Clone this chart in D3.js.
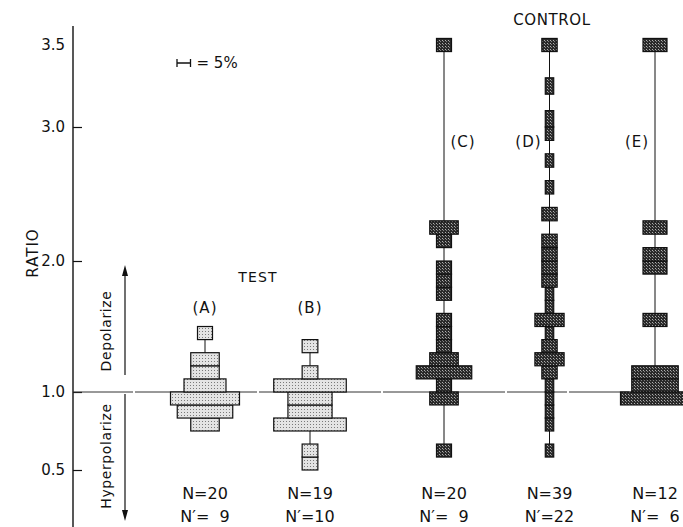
<!DOCTYPE html>
<html>
<head>
<meta charset="utf-8">
<script src="https://cdn.jsdelivr.net/npm/d3@7"></script>
<style>
  body { margin: 0; background: #fff; }
  text { font-family: "DejaVu Sans", sans-serif; fill: #111; }
</style>
</head>
<body>
<div id="chart"></div>
<script>
// bins: [lower edge of ratio bin, count]; below 1.0 the bins are 1/12 wide, the 3.46 bin is the ">3" overflow
const groupA = [[0.75, 2], [0.833, 4], [0.917, 5], [1.0, 3], [1.1, 2], [1.2, 2], [1.4, 1]];
const groupB = [[0.5, 1], [0.583, 1], [0.75, 5], [0.833, 3], [0.917, 3], [1.0, 5], [1.1, 1], [1.3, 1]];
const groupC = [[0.583, 1], [0.917, 2], [1.0, 1], [1.1, 4], [1.2, 2], [1.3, 1], [1.4, 1], [1.5, 1],
  [1.7, 1], [1.8, 1], [1.9, 1], [2.1, 1], [2.2, 2], [3.46, 1]];
const groupD = [[0.583, 1], [0.75, 1], [0.833, 1], [0.917, 1], [1.0, 1], [1.1, 2], [1.2, 4], [1.3, 2],
  [1.4, 1], [1.5, 4], [1.6, 1], [1.7, 1], [1.8, 2], [1.9, 2], [2.0, 2], [2.1, 2], [2.3, 2], [2.5, 1],
  [2.7, 1], [2.9, 1], [3.0, 1], [3.2, 1], [3.46, 2]];
const groupE = [[0.917, 3], [1.0, 2], [1.1, 2], [1.5, 1], [1.9, 1], [2.0, 1], [2.2, 1], [3.46, 1]];

const testNames = ["A", "B"];
const controlNames = ["C", "D", "E"];
const nValues = [20, 19, 20, 39, 12];
const nPrimeValues = [9, 10, 9, 22, 6];
const yTicks = [0.5, 1.0, 2.0, 3.0, 3.5];
const yTickLabels = ["0.5", "1.0", "2.0", "3.0", "3.5"];

const groups = [
  { name: "A", bins: groupA, kind: "test" },
  { name: "B", bins: groupB, kind: "test" },
  { name: "C", bins: groupC, kind: "control" },
  { name: "D", bins: groupD, kind: "control" },
  { name: "E", bins: groupE, kind: "control" },
];
groups.forEach((g, i) => { g.n = nValues[i]; g.nPrime = nPrimeValues[i]; });

const width = 683, height = 527;
const svg = d3.select("#chart").append("svg")
  .attr("width", width)
  .attr("height", height);

// stipple fills like the printed figure
const defs = svg.append("defs");
const light = defs.append("pattern").attr("id", "dotsLight")
  .attr("width", 3).attr("height", 3).attr("patternUnits", "userSpaceOnUse");
light.append("rect").attr("width", 3).attr("height", 3).attr("fill", "#e4e4e4");
light.append("rect").attr("x", 1).attr("y", 1).attr("width", 1).attr("height", 1).attr("fill", "#7a7a7a");
const dark = defs.append("pattern").attr("id", "dotsDark")
  .attr("width", 3).attr("height", 3).attr("patternUnits", "userSpaceOnUse");
dark.append("rect").attr("width", 3).attr("height", 3).attr("fill", "#2a2a2a");
dark.append("rect").attr("x", 1).attr("y", 1).attr("width", 1).attr("height", 1).attr("fill", "#b0b0b0");
dark.append("rect").attr("x", 2).attr("y", 2).attr("width", 1).attr("height", 1).attr("fill", "#808080");

// y axis is drawn piecewise in the original
const y = d3.scaleLinear()
  .domain([0.5, 1, 2, 3, 3.5])
  .range([470, 392, 261, 127, 45]);

const xTest = d3.scalePoint().domain(testNames).range([205, 310]);
const xControl = d3.scalePoint().domain(controlNames).range([444, 655]);
const xCol = name => testNames.includes(name) ? xTest(name) : xControl(name);

const pxPerPercent = 2.7;
function binHi(lo) {
  if (lo < 1) return lo + 1 / 12;
  if (lo > 3.4) return lo + 0.08;
  return lo + 0.1;
}
// printed boxes are a little wider than their share (ink spread)
const boxW = (count, n) => count / n * 100 * pxPerPercent + 1.5;

const axisX = 73;
svg.append("line")
  .attr("x1", axisX).attr("x2", axisX)
  .attr("y1", 26).attr("y2", height)
  .attr("stroke", "#111").attr("stroke-width", 1.4);

const yAxis = svg.append("g")
  .attr("transform", `translate(${axisX},0)`)
  .call(d3.axisLeft(y).tickValues(yTicks)
    .tickFormat((d, i) => yTickLabels[i])
    .tickSizeInner(-9).tickSizeOuter(0).tickPadding(8));
yAxis.select(".domain").remove();
yAxis.selectAll(".tick line").attr("stroke", "#111").attr("stroke-width", 1.2)
  .filter(d => d === 3.5).remove();
yAxis.selectAll(".tick text")
  .style("font-size", "15px")
  .style("font-family", "'DejaVu Sans', sans-serif")
  .attr("fill", "#111");

// RATIO label
svg.append("text")
  .attr("transform", "translate(38,253) rotate(-90)")
  .attr("text-anchor", "middle")
  .style("font-size", "15px")
  .style("letter-spacing", "1px")
  .text("RATIO");

// reference line at 1.0
svg.append("line")
  .attr("x1", axisX).attr("x2", width)
  .attr("y1", y(1)).attr("y2", y(1))
  .attr("stroke", "#333").attr("stroke-width", 1)
  .attr("stroke-dasharray", "60,2");

// depolarize / hyperpolarize arrows
const arrowX = 125;
svg.append("line").attr("x1", arrowX).attr("x2", arrowX)
  .attr("y1", y(1) - 17).attr("y2", 274).attr("stroke", "#111").attr("stroke-width", 1.2);
svg.append("path").attr("d", `M${arrowX - 3},276 L${arrowX},265 L${arrowX + 3},276 Z`).attr("fill", "#111");
svg.append("line").attr("x1", arrowX).attr("x2", arrowX)
  .attr("y1", y(1) + 2).attr("y2", 512).attr("stroke", "#111").attr("stroke-width", 1.2);
svg.append("path").attr("d", `M${arrowX - 3},510 L${arrowX},521 L${arrowX + 3},510 Z`).attr("fill", "#111");

svg.append("text")
  .attr("transform", "translate(111,331) rotate(-90)")
  .attr("text-anchor", "middle")
  .style("font-size", "14px")
  .style("letter-spacing", "0.6px")
  .text("Depolarize");
svg.append("text")
  .attr("transform", "translate(111,456) rotate(-90)")
  .attr("text-anchor", "middle")
  .style("font-size", "14px")
  .style("letter-spacing", "0.6px")
  .text("Hyperpolarize");

// scale key: bar = 5%
const keyX = 177, keyY = 63, keyW = 5 * pxPerPercent;
svg.append("path")
  .attr("d", `M${keyX},${keyY - 4}V${keyY + 4}M${keyX},${keyY}H${keyX + keyW}M${keyX + keyW},${keyY - 4}V${keyY + 4}`)
  .attr("stroke", "#111").attr("stroke-width", 1.3).attr("fill", "none");
svg.append("text")
  .attr("x", keyX + keyW + 6).attr("y", keyY + 5)
  .style("font-size", "15px")
  .text("= 5%");

// group headings
svg.append("text").attr("x", 258).attr("y", 282)
  .attr("text-anchor", "middle").style("font-size", "14px").style("letter-spacing", "1.2px").text("TEST");
svg.append("text").attr("x", 552).attr("y", 25)
  .attr("text-anchor", "middle").style("font-size", "15px").style("letter-spacing", "0.6px").text("CONTROL");

const labelPos = { A: [0, 313], B: [0, 313], C: [19, 147], D: [-21, 147], E: [-18, 147] };

groups.forEach(g => {
  const cx = xCol(g.name);
  const lo = d3.min(g.bins, b => b[0]);
  const hi = d3.max(g.bins, b => binHi(b[0]));
  const col = svg.append("g");

  col.append("line")
    .attr("x1", cx).attr("x2", cx)
    .attr("y1", y(hi)).attr("y2", y(lo))
    .attr("stroke", "#111").attr("stroke-width", 1);

  col.selectAll("rect")
    .data(g.bins)
    .join("rect")
    .attr("x", d => cx - boxW(d[1], g.n) / 2)
    .attr("width", d => boxW(d[1], g.n))
    .attr("y", d => y(binHi(d[0])))
    .attr("height", d => y(d[0]) - y(binHi(d[0])))
    .attr("fill", g.kind === "test" ? "url(#dotsLight)" : "url(#dotsDark)")
    .attr("stroke", "#111")
    .attr("stroke-width", 1.2);

  const lp = labelPos[g.name];
  svg.append("text")
    .attr("x", cx + lp[0]).attr("y", lp[1])
    .attr("text-anchor", "middle")
    .style("font-size", "15px")
    .style("letter-spacing", "1px")
    .text(`(${g.name})`);

  svg.append("text")
    .attr("x", cx).attr("y", 499)
    .attr("text-anchor", "middle")
    .style("font-size", "16px")
    .text(`N=${g.n}`);
  svg.append("text")
    .attr("x", cx).attr("y", 522)
    .attr("text-anchor", "middle")
    .style("font-size", "16px")
    .text(`N\u2032=${String(g.nPrime).padStart(2, "\u2007")}`);
});
</script>
</body>
</html>
